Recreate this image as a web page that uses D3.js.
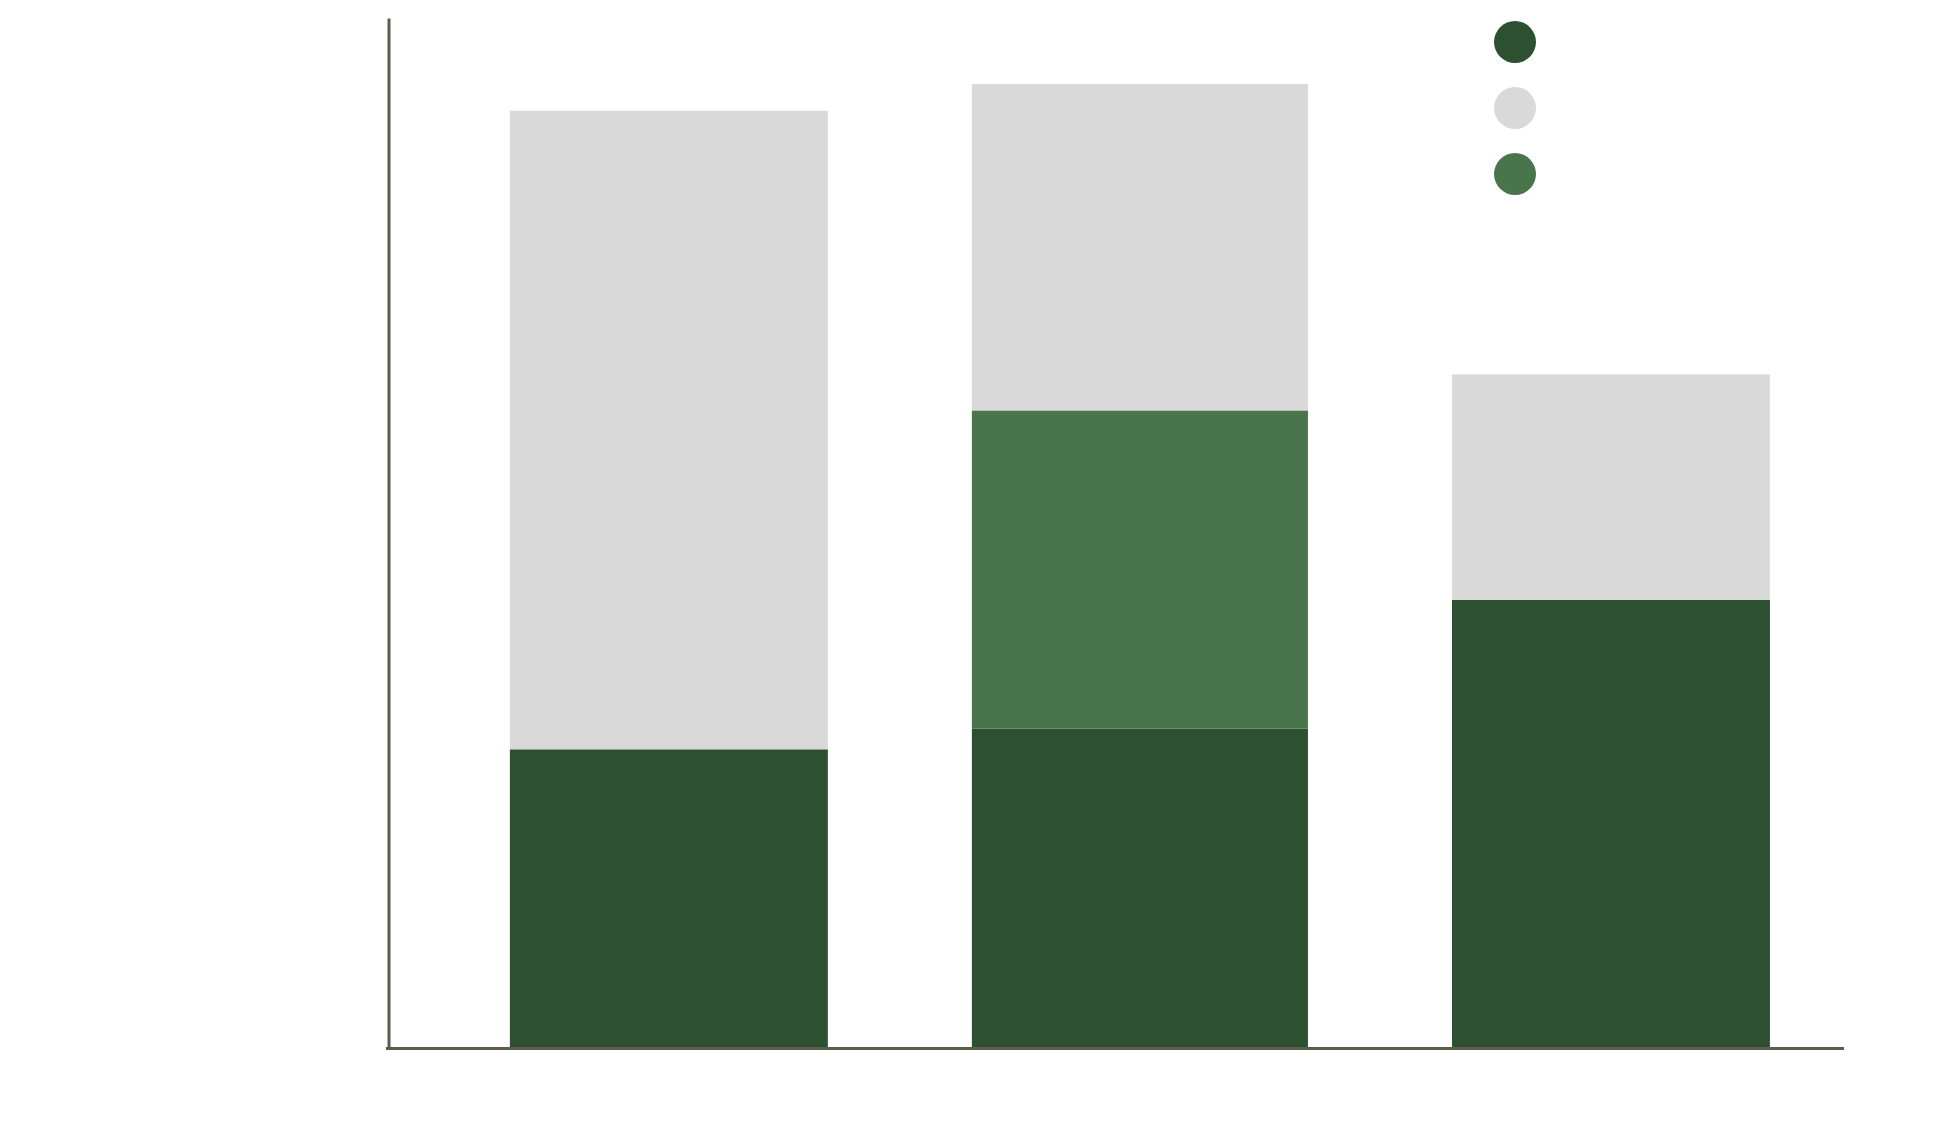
<!DOCTYPE html>
<html>
<head>
<meta charset="utf-8">
<script src="https://cdn.jsdelivr.net/npm/d3@7"></script>
<style>
  html, body { margin: 0; padding: 0; background: #ffffff; }
  svg { display: block; }
</style>
</head>
<body>
<script>
// ---- data ----
const categories = ["Group 1", "Group 2", "Group 3"];
const seriesNames = ["Series 1", "Series 2", "Series 3"]; // legend order
const series1 = [29.0, 31.0, 43.5];   // dark green (bottom)
const series3 = [0, 30.9, 0];         // mid green (middle)
const series2 = [62.0, 31.7, 21.9];   // light gray (top)
const stackOrder = ["Series 1", "Series 3", "Series 2"];
const emphasized = [false, true, false];

// ---- styling ----
const W = 1956, H = 1121;
const colors = { "Series 1": "#2c5030", "Series 2": "#d9d9d9", "Series 3": "#4a744c" };
const axisColor = "#5b5c4c";

const svg = d3.select("body").append("svg").attr("width", W).attr("height", H);

const mLeft = 388, mRight = 1844, mTop = 18, mBottom = 1048;

const x = d3.scaleBand().domain(categories).range([mLeft, mRight])
  .paddingInner(0.325).paddingOuter(0.208).align(0.622);
const y = d3.scaleLinear().domain([0, 100]).range([mBottom, mTop]);

const rows = categories.map((c, i) => ({
  cat: c, "Series 1": series1[i], "Series 2": series2[i], "Series 3": series3[i], emph: emphasized[i]
}));
const stacked = d3.stack().keys(stackOrder)(rows);

const bw = x.bandwidth();
const emphFactor = 1.057;

svg.append("g").selectAll("g").data(stacked).join("g")
  .attr("fill", d => colors[d.key])
  .selectAll("rect").data(d => d).join("rect")
  .attr("x", d => {
    const w = d.data.emph ? bw * emphFactor : bw;
    return x(d.data.cat) + bw / 2 - w / 2;
  })
  .attr("width", d => d.data.emph ? bw * emphFactor : bw)
  .attr("y", d => y(d[1]))
  .attr("height", d => Math.max(0, y(d[0]) - y(d[1])));

// axes (domain lines only)
const yAxis = svg.append("g").attr("transform", `translate(${mLeft + 0.5},0)`)
  .call(d3.axisLeft(y).tickValues([]).tickSizeOuter(0));
const xAxis = svg.append("g").attr("transform", `translate(0,${mBottom + 0.5})`)
  .call(d3.axisBottom(x).tickValues([]).tickSizeOuter(0));
[yAxis, xAxis].forEach(g => g.select(".domain").attr("stroke", axisColor).attr("stroke-width", 3));
xAxis.select(".domain").attr("d", `M${mLeft - 2},0H${mRight}`);

// legend (circles only)
const legend = svg.append("g").attr("transform", "translate(1515,42)");
legend.selectAll("circle").data(seriesNames).join("circle")
  .attr("cx", 0)
  .attr("cy", (d, i) => i * 66)
  .attr("r", 21)
  .attr("fill", d => colors[d]);
</script>
</body>
</html>
